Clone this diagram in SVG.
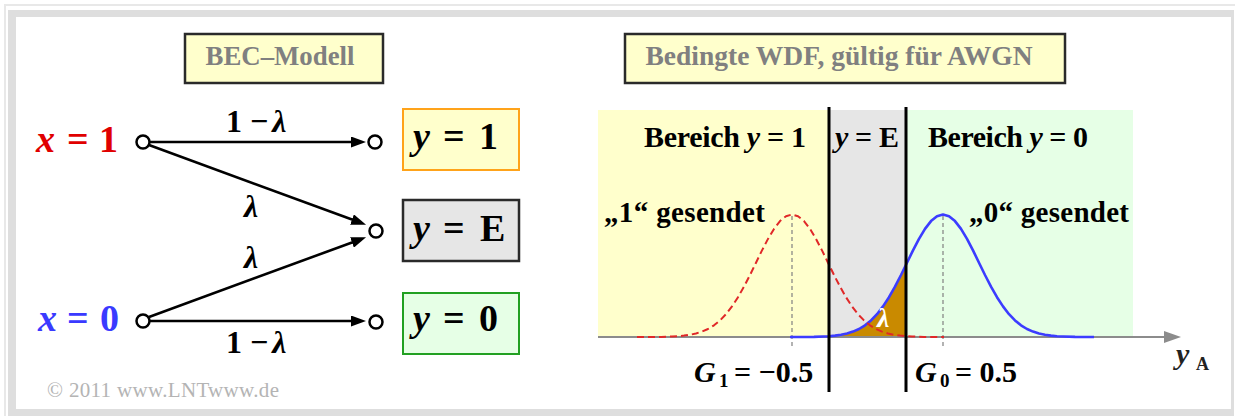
<svg xmlns="http://www.w3.org/2000/svg" width="1235" height="416" viewBox="0 0 1235 416">
<style>
text{font-family:"Liberation Serif","Times New Roman",serif;font-weight:bold}
.it{font-style:italic}
.title{fill:#808080;font-size:27px}
.tbox{fill:#ffffcc;stroke:#2a2a2a;stroke-width:2.5}
.conn{stroke:#000;stroke-width:2.6;fill:none}
.node{fill:#fff;stroke:#000;stroke-width:2.5}
.lbl{font-size:32px;fill:#000}
.math{font-size:38px;fill:#000}
.reg{font-size:30px;fill:#000}
.send{font-size:29px}
.mean{stroke:#808080;stroke-width:1.2;stroke-dasharray:4 3;fill:none}
</style>
<defs>
<marker id="ah" markerUnits="userSpaceOnUse" markerWidth="15" markerHeight="11" refX="8" refY="5.5" orient="auto">
<path d="M0,0 L15,5.5 L0,11 z" fill="#000"/>
</marker>
</defs>

<!-- frame -->
<rect x="0" y="0" width="1235" height="416" fill="#fff"/>
<path d="M5,416 V5 H1235" fill="none" stroke="#e8e8e8" stroke-width="2"/>
<rect x="8" y="10" width="1226" height="406" fill="#dedede"/>
<rect x="16" y="17" width="1215" height="392" fill="#fff"/>

<!-- left panel -->
<g id="bec-title">
<rect class="tbox" x="185" y="34" width="198" height="49"/>
<text class="title" x="280" y="65" text-anchor="middle" textLength="149" lengthAdjust="spacingAndGlyphs">BEC–Modell</text>
</g>

<g id="connectors">
<line class="conn" x1="150" y1="142" x2="359" y2="142" marker-end="url(#ah)"/>
<line class="conn" x1="149" y1="145" x2="359.5" y2="222.3" marker-end="url(#ah)"/>
<line class="conn" x1="149" y1="317" x2="359.5" y2="239.7" marker-end="url(#ah)"/>
<line class="conn" x1="150" y1="321" x2="359" y2="321" marker-end="url(#ah)"/>
<text class="lbl" x="226" y="132">1 −<tspan class="it" dx="4">λ</tspan></text>
<text class="lbl" x="226" y="353">1 −<tspan class="it" dx="4">λ</tspan></text>
<text class="lbl it" x="244" y="217" font-size="30">λ</text>
<text class="lbl it" x="244" y="268" font-size="30">λ</text>
</g>

<g id="x1">
<text font-size="38" fill="#e00000" y="152"><tspan class="it" x="36">x </tspan><tspan x="67">= </tspan><tspan x="99">1</tspan></text>
<circle class="node" cx="143" cy="142" r="6.5"/>
</g>
<g id="x0">
<text font-size="38" fill="#3a3aff" y="331"><tspan class="it" x="38">x </tspan><tspan x="67">= </tspan><tspan x="100">0</tspan></text>
<circle class="node" cx="143" cy="321" r="6.5"/>
</g>

<g id="y1">
<circle class="node" cx="375" cy="142" r="6.5"/>
<rect x="403" y="109" width="116" height="61" fill="#ffffcc" stroke="#ffa31a" stroke-width="2"/>
<text class="math" y="149"><tspan class="it" x="413">y </tspan><tspan x="443">= </tspan><tspan x="479">1</tspan></text>
</g>
<g id="yE">
<circle class="node" cx="376" cy="231" r="6.5"/>
<rect x="403" y="200" width="116" height="61" fill="#e6e6e6" stroke="#2a2a2a" stroke-width="2.5"/>
<text class="math" y="241"><tspan class="it" x="413">y </tspan><tspan x="443">= </tspan><tspan x="480">E</tspan></text>
</g>
<g id="y0">
<circle class="node" cx="376" cy="322" r="6.5"/>
<rect x="403" y="293" width="116" height="61" fill="#e6ffe6" stroke="#22a022" stroke-width="2"/>
<text class="math" y="331"><tspan class="it" x="413">y </tspan><tspan x="443">= </tspan><tspan x="479">0</tspan></text>
</g>

<text x="47" y="397" font-size="21" fill="#b4b4b4" textLength="232" style="font-weight:normal">© 2011 www.LNTwww.de</text>

<!-- right panel -->
<g id="wdf-title">
<rect class="tbox" x="625" y="34" width="440" height="49"/>
<text class="title" x="839" y="65" text-anchor="middle" textLength="387" lengthAdjust="spacingAndGlyphs">Bedingte WDF, gültig für AWGN</text>
</g>

<g id="wdf">
<rect x="598" y="110" width="231" height="227" fill="#ffffcc"/>
<rect x="829" y="110" width="77" height="227" fill="#e6e6e6"/>
<rect x="906" y="110" width="227" height="227" fill="#e6ffe6"/>

<path d="M829,337 L829,336.2 L835,335.6 L841,334.8 L847,333.5 L853,331.6 L859,329.0 L865,325.3 L871,320.4 L877,314.2 L883,306.4 L889,297.2 L895,286.6 L901,275.0 L906,264.7 L906,337 Z" fill="#c98a00"/>

<line class="mean" x1="792" y1="216" x2="792" y2="347"/>
<line class="mean" x1="943" y1="216" x2="943" y2="347"/>

<line x1="598" y1="337" x2="1166" y2="337" stroke="#8c8c8c" stroke-width="2"/>
<polygon points="1164,331 1181,337 1164,343" fill="#8c8c8c"/>

<polyline fill="none" stroke="#3c3cff" stroke-width="2.6" stroke-linejoin="round" points="790,337 802,337 814,336.9 823,336.5 829,336.2 835,335.6 841,334.8 847,333.5 853,331.6 859,329.0 865,325.3 871,320.4 877,314.2 883,306.4 889,297.2 895,286.6 901,275.0 907,262.7 913,250.4 919,238.9 925,228.9 931,221.1 937,216.2 943,214.5 949,216.2 955,221.1 961,228.9 967,238.9 973,250.4 979,262.7 985,275.0 991,286.6 997,297.2 1003,306.4 1009,314.2 1015,320.4 1021,325.3 1027,329.0 1033,331.6 1039,333.5 1045,334.8 1051,335.6 1057,336.2 1063,336.5 1075,336.9 1094,337"/>

<polyline fill="none" stroke="#e02828" stroke-width="2" stroke-dasharray="7 4" stroke-linejoin="round" points="637,337 649,337 661,336.9 672,336.5 678,336.2 684,335.6 690,334.8 696,333.5 702,331.6 708,329.0 714,325.3 720,320.4 726,314.2 732,306.4 738,297.2 744,286.6 750,275.0 756,262.7 762,250.4 768,238.9 774,228.9 780,221.1 786,216.2 792,214.5 798,216.2 804,221.1 810,228.9 816,238.9 822,250.4 828,262.7 834,275.0 840,286.6 846,297.2 852,306.4 858,314.2 864,320.4 870,325.3 876,329.0 882,331.6 888,333.5 894,334.8 900,335.6 906,336.2 912,336.5 924,336.9 944,337"/>

<line x1="829" y1="107" x2="829" y2="392" stroke="#000" stroke-width="3"/>
<line x1="906" y1="107" x2="906" y2="392" stroke="#000" stroke-width="3"/>

<text class="reg" x="644" y="147" textLength="162">Bereich <tspan class="it">y</tspan> = 1</text>
<text class="reg" x="835" y="147" textLength="64"><tspan class="it">y</tspan> = E</text>
<text class="reg" x="928" y="147" textLength="160">Bereich <tspan class="it">y</tspan> = 0</text>

<text class="reg send" x="604" y="222" fill="#e00000" textLength="161">„1“ gesendet</text>
<text class="reg send" x="969" y="222" fill="#3a3aff" textLength="160">„0“ gesendet</text>

<text class="it" x="877" y="327" font-size="28" fill="#fff">λ</text>

<text font-size="30" y="382"><tspan class="it" x="694">G</tspan><tspan font-size="19" dy="5" x="719">1</tspan><tspan dy="-5" x="734">= −0.5</tspan></text>
<text font-size="30" y="382"><tspan class="it" x="915">G</tspan><tspan font-size="19" dy="5" x="940">0</tspan><tspan dy="-5" x="955">= 0.5</tspan></text>

<text y="364" fill="#222"><tspan class="it" font-size="30" x="1176">y</tspan><tspan font-size="18" x="1196" dy="6">A</tspan></text>
</g>
</svg>
